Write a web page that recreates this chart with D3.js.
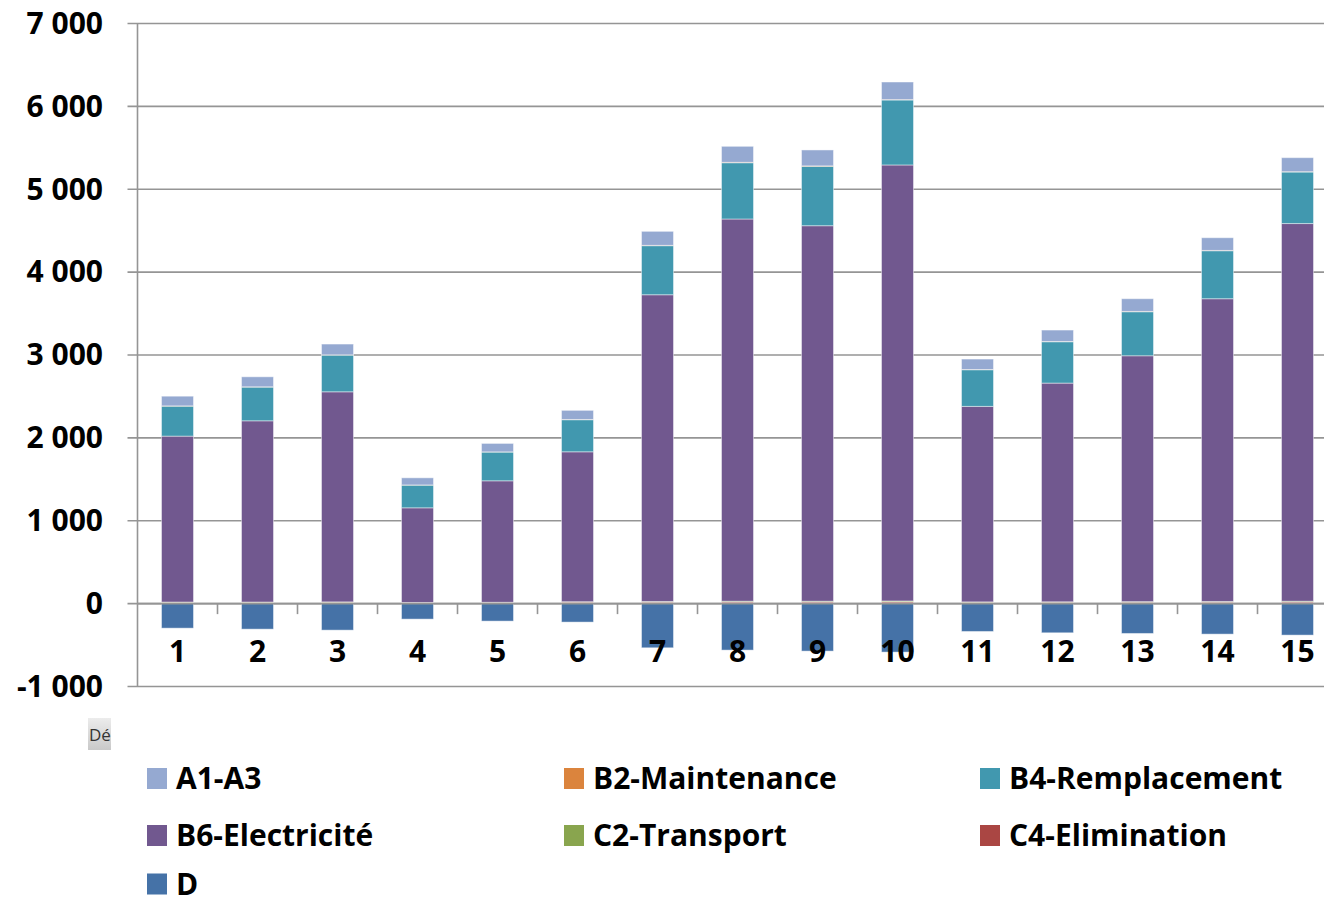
<!DOCTYPE html>
<html>
<head>
<meta charset="utf-8">
<script src="https://cdn.jsdelivr.net/npm/d3@7"></script>
<style>
  html, body { margin: 0; padding: 0; background: #fff; }
  svg { display: block; }
  text { font-family: "Open Sans", "Noto Sans", sans-serif; }
</style>
</head>
<body>
<svg id="chart" width="1324" height="904"></svg>
<script>
// Categories (variants 1..15)
const categories = ["1","2","3","4","5","6","7","8","9","10","11","12","13","14","15"];

// Life-cycle module contributions per variant
const a1a3 = [117, 121, 130, 86, 102, 110, 169, 193, 192, 212, 126, 138, 153, 153, 169];
const b2Maintenance = [3, 3, 3, 2, 2, 3, 4, 5, 5, 5, 3, 3, 4, 4, 4];
const b4Remplacement = [362, 407, 443, 274, 347, 387, 592, 679, 717, 784, 442, 499, 531, 579, 622];
const b6Electricite = [2002, 2187, 2535, 1142, 1466, 1809, 3701, 4612, 4531, 5261, 2359, 2639, 2967, 3653, 4557];
const c2Transport = [5, 5, 6, 3, 4, 5, 8, 9, 9, 10, 6, 6, 7, 8, 9];
const c4Elimination = [8, 8, 9, 5, 6, 12, 12, 14, 14, 16, 9, 10, 11, 12, 14];
const dModule = [-302, -314, -326, -193, -217, -229, -539, -567, -579, -591, -342, -358, -366, -374, -386];

// Y axis ticks
const yTicks = [-1000, 0, 1000, 2000, 3000, 4000, 5000, 6000, 7000];

// Series in legend order
const series = [
  { key: "A1-A3", values: a1a3, color: "#95A9D1" },
  { key: "B2-Maintenance", values: b2Maintenance, color: "#DB843D" },
  { key: "B4-Remplacement", values: b4Remplacement, color: "#4198AF" },
  { key: "B6-Electricité", values: b6Electricite, color: "#71588F" },
  { key: "C2-Transport", values: c2Transport, color: "#89A54E" },
  { key: "C4-Elimination", values: c4Elimination, color: "#AA4643" },
  { key: "D", values: dModule, color: "#4572A7" }
];
// Stacking order from the baseline upward
const stackOrder = ["C4-Elimination", "C2-Transport", "B6-Electricité", "B4-Remplacement", "B2-Maintenance", "A1-A3", "D"];

const rows = categories.map((c, i) => {
  const r = { cat: c };
  series.forEach(s => { r[s.key] = s.values[i]; });
  return r;
});
const colorOf = Object.fromEntries(series.map(s => [s.key, s.color]));

const svg = d3.select("#chart");
const plotLeft = 137.5, plotRight = 1337.5, plotTop = 23, plotBottom = 686;

const x = d3.scaleBand().domain(categories).range([plotLeft, plotRight]).padding(0);
const y = d3.scaleLinear().domain([-1000, 7000]).range([plotBottom, plotTop]);

const fr = d3.formatLocale({ decimal: ",", thousands: " ", grouping: [3], currency: ["", " €"], minus: "-" });
const fmt = fr.format(",d");

// Gridlines with outside tick marks
const yAxis = d3.axisLeft(y).tickValues(yTicks).tickSize(-(plotRight - plotLeft)).tickSizeOuter(0).tickFormat("");
const gy = svg.append("g").attr("transform", `translate(${plotLeft},0)`).call(yAxis);
gy.select(".domain").remove();
gy.selectAll(".tick line")
  .attr("x1", -10)
  .attr("stroke", "#959595")
  .attr("stroke-width", 1.6);

// Bars
const stack = d3.stack().keys(stackOrder).offset(d3.stackOffsetDiverging);
const stacked = stack(rows);
const barW = x.bandwidth() * 0.4;

svg.append("g").selectAll("g")
  .data(stacked)
  .join("g")
  .attr("fill", d => colorOf[d.key])
  .selectAll("rect")
  .data(d => d)
  .join("rect")
  .attr("x", d => x(d.data.cat) + (x.bandwidth() - barW) / 2)
  .attr("y", d => y(Math.max(d[0], d[1])))
  .attr("width", barW)
  .attr("height", d => Math.abs(y(d[0]) - y(d[1])))
  .attr("stroke", "rgba(255,255,255,0.45)")
  .attr("stroke-width", 1);

// Vertical axis line
svg.append("line")
  .attr("x1", plotLeft).attr("x2", plotLeft)
  .attr("y1", y(7000)).attr("y2", y(-1000))
  .attr("stroke", "#959595").attr("stroke-width", 1.6);

// Category axis at zero with ticks between categories
const xAxis = d3.axisBottom(x).tickSize(0).tickFormat("");
const gx = svg.append("g").attr("transform", `translate(0,${y(0)})`).call(xAxis);
gx.select(".domain").attr("stroke", "#959595").attr("stroke-width", 1.6);
gx.selectAll(".tick").remove();
gx.selectAll("line.sep")
  .data(categories.slice(1))
  .join("line")
  .attr("class", "sep")
  .attr("x1", d => x(d)).attr("x2", d => x(d))
  .attr("y1", 0).attr("y2", 11)
  .attr("stroke", "#959595").attr("stroke-width", 1.6);

// Y tick labels
svg.append("g").selectAll("text")
  .data(yTicks)
  .join("text")
  .attr("x", 103)
  .attr("y", d => y(d))
  .attr("dy", "0.36em")
  .attr("text-anchor", "end")
  .attr("font-size", 30)
  .attr("font-weight", 700)
  .attr("fill", "#000")
  .text(d => fmt(d));

// Category labels
svg.append("g").selectAll("text")
  .data(categories)
  .join("text")
  .attr("x", d => x(d) + x.bandwidth() / 2)
  .attr("y", 662)
  .attr("text-anchor", "middle")
  .attr("font-size", 30)
  .attr("font-weight", 700)
  .attr("fill", "#000")
  .text(d => d);

// Small clipped data-table button
const defs = svg.append("defs");
const grad = defs.append("linearGradient").attr("id", "btnGrad")
  .attr("x1", 0).attr("y1", 0).attr("x2", 0).attr("y2", 1);
grad.append("stop").attr("offset", "0%").attr("stop-color", "#ececec");
grad.append("stop").attr("offset", "100%").attr("stop-color", "#c9c9c9");
const btn = svg.append("g").attr("transform", "translate(88,718)");
btn.append("rect").attr("width", 23).attr("height", 32).attr("fill", "url(#btnGrad)");
btn.append("text").attr("x", 1).attr("y", 23).attr("font-size", 17)
  .attr("fill", "#333").text("Dé");

// Legend
const legendCols = [147, 564, 980];
const legendRows = [778.5, 835.5, 884];
const legend = svg.append("g").selectAll("g")
  .data(series)
  .join("g")
  .attr("transform", (d, i) => `translate(${legendCols[i % 3]},${legendRows[Math.floor(i / 3)]})`);
legend.append("rect")
  .attr("x", 0).attr("y", -10.5)
  .attr("width", 20).attr("height", 21)
  .attr("fill", d => d.color);
legend.append("text")
  .attr("x", 29).attr("y", 0).attr("dy", "0.36em")
  .attr("font-size", 30)
  .attr("font-weight", 700)
  .attr("fill", "#000")
  .text(d => d.key);
</script>
</body>
</html>
